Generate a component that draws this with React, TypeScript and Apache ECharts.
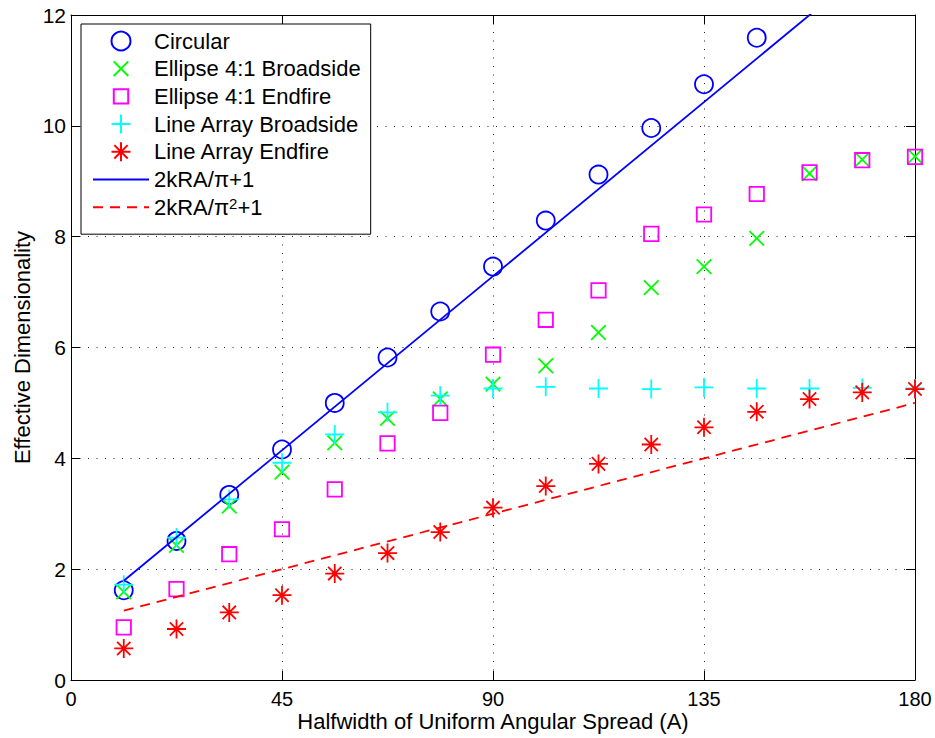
import React, { useEffect, useRef } from 'react';
import * as echarts from 'echarts';

const angles = [11.25, 22.5, 33.75, 45, 56.25, 67.5, 78.75, 90, 101.25, 112.5, 123.75, 135, 146.25, 157.5, 168.75, 180];
const circular = [1.62, 2.51, 3.34, 4.16, 5.0, 5.82, 6.65, 7.46, 8.29, 9.12, 9.96, 10.75, 11.59];
const ellipseBroadside = [1.59, 2.43, 3.14, 3.75, 4.28, 4.72, 5.07, 5.34, 5.67, 6.27, 7.08, 7.46, 7.97, 9.14, 9.39, 9.45];
const ellipseEndfire = [0.95, 1.64, 2.27, 2.72, 3.44, 4.27, 4.82, 5.87, 6.5, 7.03, 8.05, 8.4, 8.77, 9.16, 9.38, 9.44];
const lineBroadside = [1.72, 2.57, 3.26, 3.92, 4.43, 4.83, 5.13, 5.26, 5.29, 5.26, 5.25, 5.28, 5.26, 5.26, 5.27, 5.26];
const lineEndfire = [0.57, 0.92, 1.22, 1.53, 1.92, 2.29, 2.67, 3.11, 3.5, 3.9, 4.25, 4.56, 4.84, 5.07, 5.19, 5.25];
const fitAngles = [11.25, 180];
const fitCircular = [1.79, 13.57];
const fitLinear = [1.25, 5.0];

const seriesNames = [
  'Circular',
  'Ellipse 4:1 Broadside',
  'Ellipse 4:1 Endfire',
  'Line Array Broadside',
  'Line Array Endfire',
  '2kRA/π+1',
  '2kRA/π²+1',
];

const FONT = "'Liberation Sans', Arial, Helvetica, sans-serif";

const X_PATH = 'path://M0,0 M2.2,2.2 L16.8,16.8 M16.8,2.2 L2.2,16.8 M19,19';
const SQ_PATH = 'path://M0,0 M2.3,2.3 L16.7,2.3 L16.7,16.7 L2.3,16.7 Z M19,19';
const PLUS_PATH = 'path://M10,0 L10,20 M0,10 L20,10';
const AST_PATH = 'path://M10,0 L10,20 M0,10 L20,10 M3,3 L17,17 M17,3 L3,17';

const pts = (xs: number[], ys: number[]) => ys.map((y, i) => [xs[i], y]);

export default function App() {
  const ref = useRef<HTMLDivElement>(null);
  useEffect(() => {
    if (!ref.current) return;
    const chart = echarts.init(ref.current, undefined, { renderer: 'svg' });
    const clear = 'rgba(0,0,0,0)';
    const scatter = (name: string, ys: number[], symbol: string, size: number, color: string, bw: number) => ({
      name,
      type: 'scatter',
      data: pts(angles, ys),
      symbol,
      symbolSize: size,
      itemStyle: { color: clear, borderColor: color, borderWidth: bw, opacity: 1 },
      emphasis: { disabled: true },
      silent: true,
    });
    const axisCommon = {
      type: 'value',
      nameMoveOverlap: false,
      axisLine: { show: true, onZero: false, lineStyle: { color: '#000', width: 1 } },
      axisTick: { show: true, inside: true, length: 9, lineStyle: { color: '#000', width: 1 } },
    };
    const gridLine = {
      show: true,
      showMinLine: false,
      showMaxLine: false,
      lineStyle: { color: '#222', width: 1, type: [1, 7.5] },
    };
    chart.setOption({
      animation: false,
      backgroundColor: '#fff',
      grid: { left: 71, right: 20, top: 15, bottom: 58, containLabel: false, outerBoundsMode: 'none' },
      xAxis: [
        {
          ...axisCommon,
          position: 'bottom',
          min: 0,
          max: 180,
          interval: 45,
          name: 'Halfwidth of Uniform Angular Spread (A)',
          nameLocation: 'middle',
          nameGap: 30,
          nameTextStyle: { fontSize: 22, fontFamily: FONT, color: '#000' },
          axisLabel: { fontSize: 20, fontFamily: FONT, color: '#000', margin: 9 },
          splitLine: gridLine,
        },
        {
          ...axisCommon,
          position: 'top',
          min: 0,
          max: 180,
          interval: 45,
          axisLabel: { show: false },
          splitLine: { show: false },
        },
      ],
      yAxis: [
        {
          ...axisCommon,
          position: 'left',
          min: 0,
          max: 12,
          interval: 2,
          name: 'Effective Dimensionality',
          nameLocation: 'middle',
          nameGap: 38,
          nameTextStyle: { fontSize: 22, fontFamily: FONT, color: '#000' },
          axisLabel: { fontSize: 21, fontFamily: FONT, color: '#000', margin: 5 },
          splitLine: gridLine,
        },
        {
          ...axisCommon,
          position: 'right',
          min: 0,
          max: 12,
          interval: 2,
          axisLabel: { show: false },
          splitLine: { show: false },
        },
      ],
      legend: {
        orient: 'vertical',
        left: 81,
        top: 24,
        padding: [6, 10, 16, 11],
        itemWidth: 56,
        itemHeight: 19,
        itemGap: 5.7,
        backgroundColor: '#fff',
        borderColor: '#000',
        borderWidth: 1,
        borderRadius: 0,
        selectedMode: false,
        textStyle: {
          fontSize: 22,
          fontFamily: FONT,
          color: '#000',
          lineHeight: 22,
          rich: {
            sup: { fontSize: 15, fontFamily: FONT, color: '#000', verticalAlign: 'top', lineHeight: 13 },
          },
        },
        formatter: (n: string) => (n === seriesNames[6] ? '2kRA/π{sup|2}+1' : n),
        data: [
          seriesNames[0],
          seriesNames[1],
          seriesNames[2],
          seriesNames[3],
          seriesNames[4],
          { name: seriesNames[5], itemStyle: { color: clear, borderColor: clear, borderWidth: 0 } },
          { name: seriesNames[6], itemStyle: { color: clear, borderColor: clear, borderWidth: 0 } },
        ],
      },
      series: [
        scatter(seriesNames[0], circular, 'circle', 18, '#0000ff', 1.8),
        scatter(seriesNames[1], ellipseBroadside, X_PATH, 19, '#00ff00', 1.8),
        scatter(seriesNames[2], ellipseEndfire, SQ_PATH, 19, '#ff00ff', 1.8),
        scatter(seriesNames[3], lineBroadside, PLUS_PATH, 19, '#00ffff', 1.8),
        scatter(seriesNames[4], lineEndfire, AST_PATH, 19, '#ff0000', 1.8),
        {
          name: seriesNames[5],
          type: 'line',
          data: pts(fitAngles, fitCircular),
          symbol: 'none',
          showSymbol: false,
          clip: true,
          silent: true,
          itemStyle: { color: '#0000ff' },
          lineStyle: { color: '#0000ff', width: 1.8, type: 'solid' },
        },
        {
          name: seriesNames[6],
          type: 'line',
          data: pts(fitAngles, fitLinear),
          symbol: 'none',
          showSymbol: false,
          clip: true,
          silent: true,
          itemStyle: { color: '#ff0000' },
          lineStyle: { color: '#ff0000', width: 1.8, type: [10, 7] },
        },
      ],
    });
    return () => chart.dispose();
  }, []);
  return (
    <div
      ref={ref}
      style={{ position: 'absolute', left: 0, top: 0, width: 935, height: 738, background: '#fff' }}
    />
  );
}
